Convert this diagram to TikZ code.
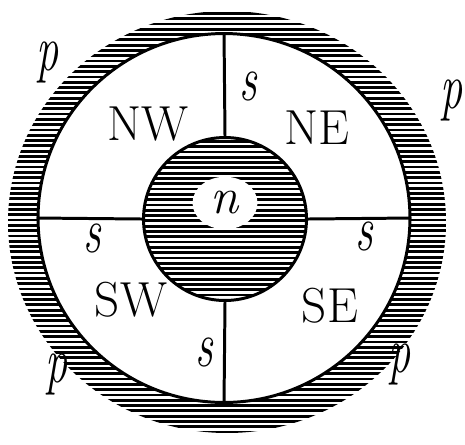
\documentclass[tikz,border=0pt]{standalone}
\usepackage{fontspec}
\usepackage{graphicx}
\usepackage{tikz}
\usetikzlibrary{shapes.geometric,positioning}

\newcommand{\slim}[1]{\scalebox{0.68}[1]{\itshape #1}}

\begin{document}
\begin{tikzpicture}[
    x=0.02cm, y=-0.02cm,
    hatch/.style={line width=1.6pt},
    wall/.style={ellipse, draw, line width=1.7pt, fill=white, inner sep=0pt, minimum width=7.44cm, minimum height=7.38cm},
    core/.style={circle, draw, line width=1.7pt, inner sep=0pt, minimum size=3.26cm},
    part/.style={line width=1.7pt},
    quarter/.style={font=\fontsize{28}{34}\selectfont},
    lab/.style={font=\fontsize{37}{40}\selectfont}
]
    \useasboundingbox (0,0) rectangle (465,444);

    % hatched outer band
    \begin{scope}
        \clip (227,222) ellipse [x radius=219, y radius=211];
        \foreach \y in {8,13.3,...,440} \draw[hatch] (0,\y) -- (465,\y);
    \end{scope}
    \node [wall] (ring) at (224,218) {};

    % hatched core with the clear spot
    \begin{scope}
        \clip (225,219) circle [radius=81];
        \foreach \y in {136,141.3,...,302} \draw[hatch] (140,\y) -- (310,\y);
    \end{scope}
    \node [core] (hub) at (225,219) {};
    \node [ellipse, fill=white, inner sep=0pt, minimum width=1.3cm, minimum height=1.05cm] (spot) at (225,203) {};
    \node [font=\fontsize{29}{32}\selectfont\itshape] (n) at (spot) {n};

    % partitions
    \draw [part] (hub.north) -- (ring.north);
    \draw [part] (hub.south) -- (ring.south);
    \draw [part] (hub.west) -- (ring.west);
    \draw [part] (hub.east) -- (ring.east);

    % quarters
    \node [quarter] (nw) at (148,124) {NW};
    \node [quarter] (ne) at (317,128) {NE};
    \node [quarter] (sw) at (131,300) {SW};
    \node [quarter] (se) at (330,306) {SE};

    % s labels
    \node [lab] (sn) at (248,86) {\slim{s}};
    \node [lab] (sw') at (92,238) {\slim{s}};
    \node [lab] (se') at (364,236) {\slim{s}};
    \node [lab] (ss) at (204,352) {\slim{s}};

    % p labels
    \node [lab] (pnw) at (48,62) {\slim{p}};
    \node [lab] (pne) at (452,100) {\slim{p}};
    \node [lab] (psw) at (57,374) {\slim{p}};
    \node [lab] (pse) at (400,364) {\slim{p}};
\end{tikzpicture}
\end{document}
